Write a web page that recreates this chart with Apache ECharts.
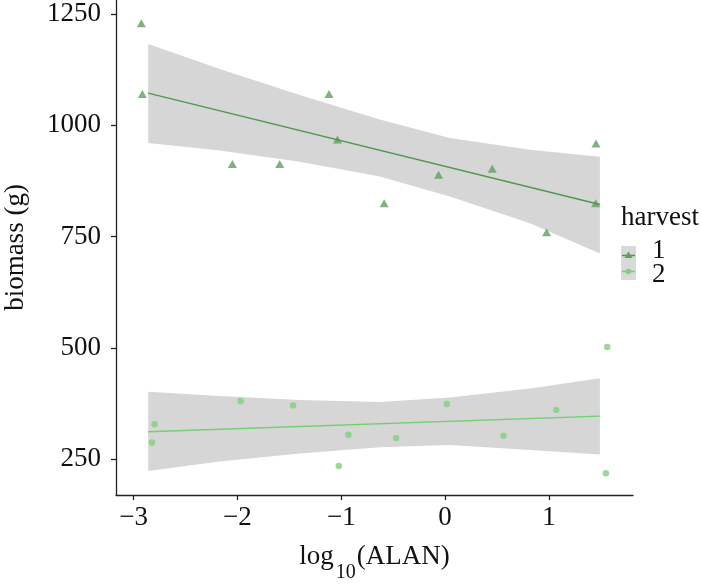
<!DOCTYPE html>
<html>
<head>
<meta charset="utf-8">
<script src="https://cdn.jsdelivr.net/npm/echarts@6/dist/echarts.min.js"></script>
<style>
  html, body { margin: 0; padding: 0; background: #fff; }
  #chart { width: 702px; height: 585px; }
</style>
</head>
<body>
<div id="chart"></div>
<script>
// harvest 1 (triangles) and harvest 2 (circles): [log10(ALAN), biomass]
var harvest1 = [
  [-2.926, 1229], [-2.916, 1070], [-2.049, 913], [-1.593, 913],
  [-1.118, 1070], [-1.037, 968], [-0.587, 825], [-0.063, 889],
  [0.454, 902], [0.978, 760], [1.453, 959], [1.450, 825]
];
var harvest2 = [
  [-2.798, 329], [-2.824, 288], [-1.969, 381], [-1.464, 371],
  [-0.931, 305], [-1.024, 235], [-0.472, 298], [0.017, 374],
  [0.563, 303], [1.071, 361], [1.562, 502], [1.549, 219]
];

// fitted lines
var fit1 = [[-2.86, 1072], [1.491, 822]];
var fit2 = [[-2.86, 312], [1.491, 347]];

// confidence bands
var bandX = [-2.86, -2.171, -1.40, -0.629, 0.046, 0.817, 1.491];
var band1Upper = [1182, 1126, 1068, 1013, 971, 945, 929];
var band1Lower = [960, 943, 918, 885, 840, 780, 712];
var band2Upper = [402, 392, 383, 379, 389, 409, 432];
var band2Lower = [224, 245, 263, 277, 282, 271, 261];

var xTicks = [-3, -2, -1, 0, 1];
var yTicks = [250, 500, 750, 1000, 1250];
var legendTitle = 'harvest';
var legendLabels = ['1', '2'];

var col1 = '#5f9f5f', line1 = '#4f974f';
var col2 = '#80cf80', line2 = '#6fd06f';
var bandCol = '#d6d6d6';
var FONT = 'Liberation Serif';
var FS = 27;

// one polygon per band, upper edge left->right then lower edge back
function bandSeries(lower, upper) {
  return {
    type: 'custom', silent: true, z: 1,
    data: [0],
    renderItem: function (params, api) {
      var pts = [];
      for (var i = 0; i < bandX.length; i++) pts.push(api.coord([bandX[i], upper[i]]));
      for (var j = bandX.length - 1; j >= 0; j--) pts.push(api.coord([bandX[j], lower[j]]));
      return { type: 'polygon', shape: { points: pts }, style: { fill: bandCol } };
    }
  };
}

var chart = echarts.init(document.getElementById('chart'));
chart.setOption({
  animation: false,
  backgroundColor: '#fff',
  grid: { left: 116, right: 69, top: 0, bottom: 90, outerBoundsMode: 'none', containLabel: false },
  xAxis: {
    type: 'value', min: -3.17, max: 1.81,
    splitLine: { show: false },
    axisLine: { onZero: false, lineStyle: { color: '#222', width: 1.3 } },
    axisTick: { show: true, length: 5, customValues: xTicks, lineStyle: { color: '#222', width: 1.3 } },
    axisLabel: {
      customValues: xTicks, margin: 9,
      fontFamily: FONT, fontSize: FS, color: '#111',
      formatter: function (v) { return String(v).replace('-', '\u2212'); }
    },
    name: '{a|log}{b|10}{a|(ALAN)}',
    nameLocation: 'middle', nameGap: 36,
    nameTextStyle: {
      fontFamily: FONT, fontSize: FS, color: '#111',
      rich: {
        a: { fontFamily: FONT, fontSize: FS, color: '#111' },
        b: { fontFamily: FONT, fontSize: 20, color: '#111', padding: [32, 1, 0, 2] }
      }
    }
  },
  yAxis: {
    type: 'value', min: 170, max: 1281,
    splitLine: { show: false },
    axisLine: { show: true, onZero: false, lineStyle: { color: '#222', width: 1.3 } },
    axisTick: { show: true, length: 5, customValues: yTicks, lineStyle: { color: '#222', width: 1.3 } },
    axisLabel: {
      customValues: yTicks, margin: 15,
      fontFamily: FONT, fontSize: FS, color: '#111',
      formatter: function (v) { return String(v); }
    },
    name: 'biomass (g)',
    nameLocation: 'middle', nameGap: 87,
    nameTextStyle: { fontFamily: FONT, fontSize: FS, color: '#111' }
  },
  series: [
    bandSeries(band1Lower, band1Upper),
    bandSeries(band2Lower, band2Upper),
    {
      type: 'scatter', data: harvest1, symbol: 'triangle', symbolSize: [9, 8], z: 3,
      itemStyle: { color: col1 }
    },
    {
      type: 'scatter', data: harvest2, symbol: 'circle', symbolSize: 6.5, z: 3,
      itemStyle: { color: col2 }
    },
    {
      type: 'line', data: fit1, symbol: 'none', z: 4,
      lineStyle: { color: line1, width: 1.3 }
    },
    {
      type: 'line', data: fit2, symbol: 'none', z: 4,
      lineStyle: { color: line2, width: 1.3 }
    }
  ],
  graphic: [
    { type: 'text', left: 621, top: 204,
      style: { text: legendTitle, fontFamily: FONT, fontSize: FS, fill: '#111' } },
    { type: 'rect', shape: { x: 621, y: 246, width: 15, height: 34 }, style: { fill: '#d9d9d9' } },
    { type: 'line', shape: { x1: 622, y1: 255.5, x2: 635, y2: 255.5 }, style: { stroke: line1, lineWidth: 1.5 } },
    { type: 'polygon', shape: { points: [[628.5, 251.5], [632.5, 258], [624.5, 258]] }, style: { fill: col1 } },
    { type: 'line', shape: { x1: 622, y1: 271.5, x2: 635, y2: 271.5 }, style: { stroke: line2, lineWidth: 1.5 } },
    { type: 'circle', shape: { cx: 628.5, cy: 271.5, r: 2.8 }, style: { fill: col2 } },
    { type: 'text', x: 652, y: 251,
      style: { text: legendLabels[0], fontFamily: FONT, fontSize: FS, fill: '#111', verticalAlign: 'middle' } },
    { type: 'text', x: 652, y: 275,
      style: { text: legendLabels[1], fontFamily: FONT, fontSize: FS, fill: '#111', verticalAlign: 'middle' } }
  ]
});
</script>
</body>
</html>
